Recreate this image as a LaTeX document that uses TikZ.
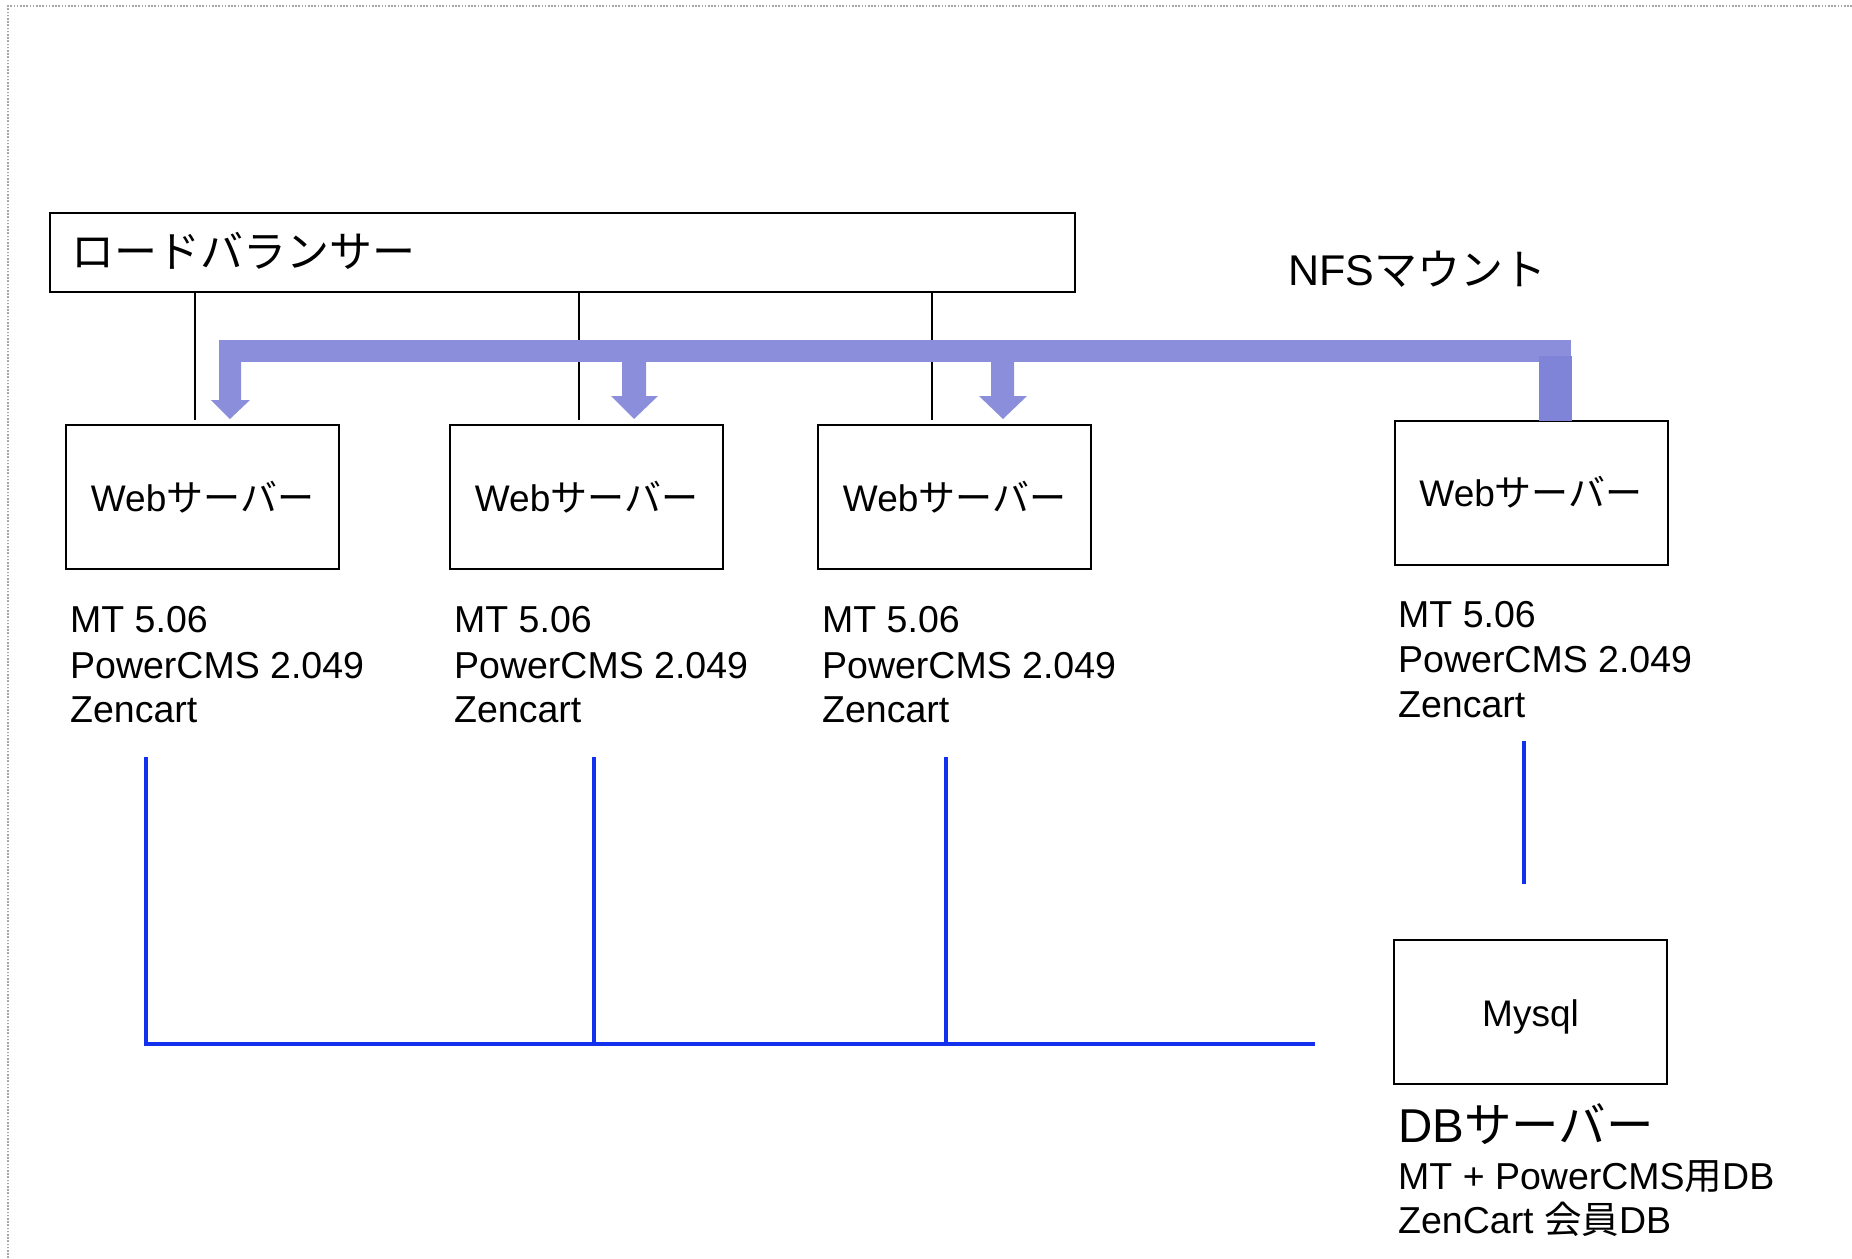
\documentclass[tikz,border=0pt]{standalone}
\usepackage{fontspec}
\setmainfont{Liberation Sans}
\newfontfamily\jp{Noto Sans CJK JP}
\definecolor{nfs}{RGB}{138,142,219}
\definecolor{nfsdark}{RGB}{127,132,217}
\definecolor{net}{RGB}{18,48,238}
\begin{document}
\begin{tikzpicture}[x=1pt,y=-1pt,
  border/.style={draw=gray!70, line width=1.6pt, dash pattern=on 1.6pt off 1.6pt},
  box/.style={draw=black, line width=2pt, inner sep=0pt, outer sep=0pt},
  webbox/.style={box, minimum width=273pt, minimum height=144pt, font=\fontsize{37}{44}\selectfont},
  lbl/.style={anchor=base west, inner sep=0pt, font=\fontsize{37.5}{44}\selectfont},
  wire/.style={draw=black, line width=2pt},
  lan/.style={draw=net, line width=4.5pt},
  nfsfill/.style={fill=nfs, draw=none}
]
\useasboundingbox (0,0) rectangle (1852,1258);
\draw[border] (8,1258) -- (8,6) -- (1852,6);

% load balancer
\node[box, minimum width=1025pt, minimum height=79pt] (lb) at (562.5,252.5) {};
\node[anchor=base west, inner sep=0pt, font=\fontsize{43}{50}\selectfont\jp] (lbtext) at (71,267) {ロードバランサー};

% web servers
\node[webbox] (w1) at (202.5,497) {Web{\jp サーバー}};
\node[webbox] (w2) at (586.5,497) {Web{\jp サーバー}};
\node[webbox] (w3) at (954.5,497) {Web{\jp サーバー}};
\node[webbox] (w4) at (1531,492.5) {Web{\jp サーバー}};

% connectors from load balancer
\coordinate (c1) at (195,420);
\coordinate (c2) at (579,420);
\coordinate (c3) at (932,420);
\draw[wire] (lb.south -| c1) -- (c1);
\draw[wire] (lb.south -| c2) -- (c2);
\draw[wire] (lb.south -| c3) -- (c3);

% NFS mount arrows
\fill[nfsfill] (219,340) rectangle (1571,362);
\fill[nfsfill] (219,362) -- (219,400) -- (211,400) -- (230,419) -- (250,400) -- (241,400) -- (241,362) -- cycle;
\fill[nfsfill] (622,362) -- (622,396) -- (611,396) -- (634,419) -- (658,396) -- (646,396) -- (646,362) -- cycle;
\fill[nfsfill] (991,362) -- (991,396) -- (979,396) -- (1003,419) -- (1027,396) -- (1014,396) -- (1014,362) -- cycle;
\fill[nfsdark] (1539,356) rectangle (1572,421);
\node[anchor=base west, inner sep=0pt, font=\fontsize{43}{50}\selectfont] (nfs) at (1288,285) {NFS{\jp マウント}};

% labels under web servers
\node[lbl] (a1) at (70,632) {MT 5.06};
\node[lbl] (a2) at (70,678) {PowerCMS 2.049};
\node[lbl] (a3) at (70,722) {Zencart};
\node[lbl] (b1) at (454,632) {MT 5.06};
\node[lbl] (b2) at (454,678) {PowerCMS 2.049};
\node[lbl] (b3) at (454,722) {Zencart};
\node[lbl] (d1) at (822,632) {MT 5.06};
\node[lbl] (d2) at (822,678) {PowerCMS 2.049};
\node[lbl] (d3) at (822,722) {Zencart};
\node[lbl] (e1) at (1398,627) {MT 5.06};
\node[lbl] (e2) at (1398,672) {PowerCMS 2.049};
\node[lbl] (e3) at (1398,717) {Zencart};

% DB server
\node[box, minimum width=273pt, minimum height=144pt] (db) at (1530.5,1012) {};
\node[font=\fontsize{37}{44}\selectfont, inner sep=0pt] (mysql) at ([yshift=-5pt]db.center) {Mysql};
\node[anchor=base west, inner sep=0pt, font=\fontsize{47.5}{54}\selectfont] (dbt) at (1398,1142) {DB{\jp サーバー}};
\node[lbl] (dbl1) at (1398,1189) {MT + PowerCMS{\jp 用}DB};
\node[lbl] (dbl2) at (1398,1233) {ZenCart {\jp 会員}DB};

% LAN lines
\coordinate (l1) at (146,757);
\coordinate (l2) at (594,757);
\coordinate (l3) at (946,757);
\coordinate (lend) at (1315,1044);
\coordinate (l4) at (1524,741);
\coordinate (l4e) at (1524,884);
\draw[lan] (l1) -- (l1 |- lend) -- (lend);
\draw[lan] (l2) -- (l2 |- lend);
\draw[lan] (l3) -- (l3 |- lend);
\draw[lan] (l4) -- (l4e);
\end{tikzpicture}
\end{document}
